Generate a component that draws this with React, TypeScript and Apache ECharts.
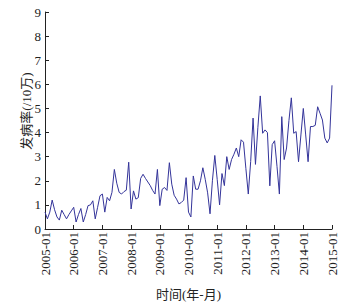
import React, { useEffect, useRef } from "react";
import * as echarts from "echarts";

const startYear = 2005;
const endYear = 2015;
const months: string[] = [];
for (let y = startYear; y <= endYear; y++) {
  for (let m = 1; m <= 12; m++) {
    if (y === endYear && m > 1) break;
    months.push(`${y}-${m < 10 ? "0" + m : m}`);
  }
}

const values2005 = [0.7, 0.42, 0.7, 1.2, 0.8, 0.5, 0.37, 0.78, 0.6, 0.42, 0.6, 0.75];
const values2006 = [0.9, 0.29, 0.6, 0.85, 0.29, 0.6, 0.97, 1.0, 1.17, 0.42, 0.9, 1.38];
const values2007 = [1.45, 0.7, 1.31, 1.17, 1.52, 2.47, 1.9, 1.52, 1.45, 1.55, 1.61, 2.77];
const values2008 = [0.83, 1.58, 1.24, 1.3, 2.1, 2.27, 2.1, 1.95, 1.8, 1.6, 1.45, 2.47];
const values2009 = [0.97, 1.65, 1.72, 1.6, 2.75, 1.86, 1.4, 1.24, 1.04, 1.1, 1.2, 2.13];
const values2010 = [0.7, 0.5, 2.2, 1.65, 1.65, 2.0, 2.54, 2.06, 1.5, 0.63, 2.0, 3.05];
const values2011 = [2.06, 1.0, 2.3, 1.8, 3.0, 2.47, 2.88, 3.1, 3.36, 3.0, 3.7, 3.6];
const values2012 = [2.5, 1.45, 2.8, 4.6, 2.68, 4.2, 5.52, 3.97, 4.11, 4.0, 1.79, 3.5];
const values2013 = [3.66, 2.6, 1.45, 4.66, 2.88, 3.36, 4.5, 5.44, 3.97, 4.04, 2.79, 3.9];
const values2014 = [5.0, 3.9, 2.79, 4.25, 4.25, 4.3, 5.07, 4.8, 4.52, 3.77, 3.57, 3.77];
const values2015 = [5.96];

const incidence = [
  ...values2005, ...values2006, ...values2007, ...values2008, ...values2009,
  ...values2010, ...values2011, ...values2012, ...values2013, ...values2014, ...values2015,
];

const yTicks = [0, 1, 2, 3, 4, 5, 6, 7, 8, 9];
const yName = "发病率(/10万)";
const xName = "时间(年-月)";

const FONT = "'Liberation Serif', 'DejaVu Serif', 'Noto Sans CJK SC', serif";

export default function App() {
  const ref = useRef<HTMLDivElement>(null);
  useEffect(() => {
    document.body.style.margin = "0";
    if (!ref.current) return;
    const chart = echarts.init(ref.current, null, { renderer: "svg" });
    chart.setOption({
      animation: false,
      backgroundColor: "#ffffff",
      grid: { left: 45, right: 23, top: 12, bottom: 74, containLabel: false },
      xAxis: {
        type: "category",
        data: months,
        boundaryGap: false,
        name: xName,
        nameLocation: "middle",
        nameGap: 59,
        nameTextStyle: { fontFamily: FONT, fontSize: 13, color: "#222" },
        axisLine: { lineStyle: { color: "#222", width: 1 } },
        axisTick: { inside: true, interval: 11, length: 4, lineStyle: { color: "#222" } },
        axisLabel: {
          interval: 11,
          rotate: 90,
          fontFamily: FONT,
          fontSize: 13,
          color: "#222",
          margin: 3,
        },
        splitLine: { show: false },
      },
      yAxis: {
        type: "value",
        min: yTicks[0],
        max: yTicks[yTicks.length - 1],
        interval: 1,
        axisLine: { show: true, lineStyle: { color: "#222", width: 1 } },
        axisTick: { show: true, inside: true, length: 4, lineStyle: { color: "#222" } },
        axisLabel: { fontFamily: FONT, fontSize: 13, color: "#222", margin: 4 },
        splitLine: { show: false },
      },
      graphic: [
        {
          type: "text",
          x: 26,
          y: 111,
          rotation: Math.PI / 2,
          style: {
            text: yName,
            fontFamily: FONT,
            fontSize: 13,
            fill: "#222",
            textAlign: "center",
            textVerticalAlign: "middle",
          },
        },
      ],
      series: [
        {
          type: "line",
          data: incidence,
          symbol: "none",
          lineStyle: { color: "#34349a", width: 1 },
        },
      ],
    });
    return () => chart.dispose();
  }, []);
  return <div ref={ref} style={{ width: 355, height: 306 }} />;
}
